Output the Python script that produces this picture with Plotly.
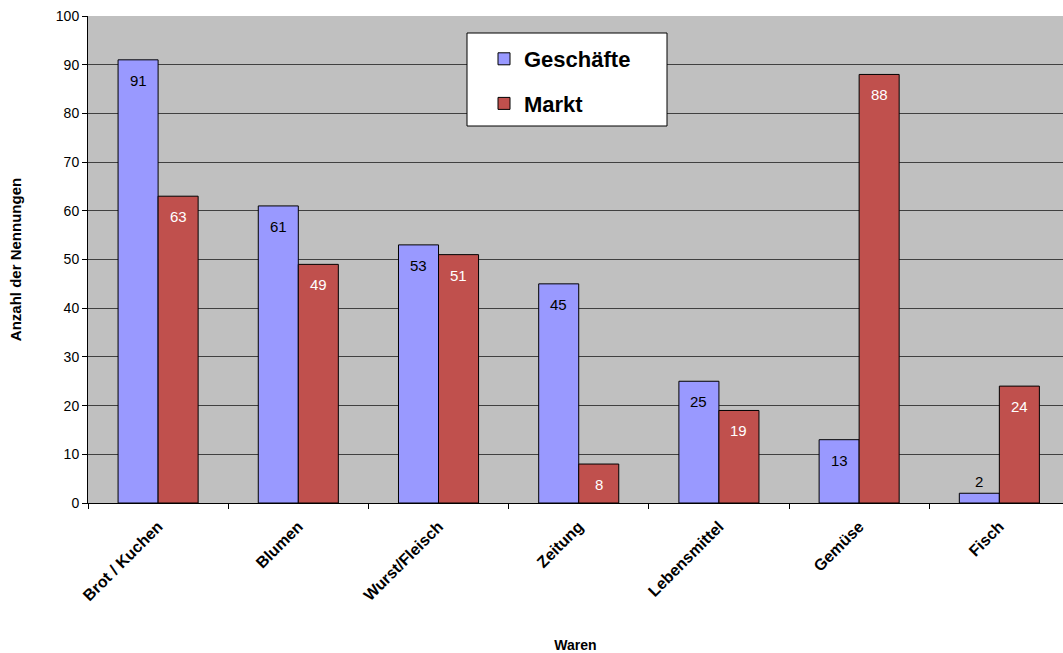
import plotly.graph_objects as go

categories = ["Brot / Kuchen", "Blumen", "Wurst/Fleisch", "Zeitung", "Lebensmittel", "Gemüse", "Fisch"]
geschaefte = [91, 61, 53, 45, 25, 13, 2]
markt = [63, 49, 51, 8, 19, 88, 24]
y_ticks = list(range(0, 101, 10))

font_family = "Liberation Sans, Arial, sans-serif"
blue = "#9999FF"
red = "#C0504D"

fig = go.Figure()
fig.add_trace(go.Bar(
    name="Geschäfte", x=categories, y=geschaefte, legendgroup="g",
    marker=dict(color=blue, line=dict(color="black", width=1)),
))
fig.add_trace(go.Bar(
    name="Markt", x=categories, y=markt, legendgroup="m",
    marker=dict(color=red, line=dict(color="black", width=1)),
))

# value labels: inside near the top of each bar, above the bar when it is too short
def add_labels(values, xshift, inside_color):
    for cat, v in zip(categories, values):
        short = v < 4
        fig.add_annotation(
            x=cat, y=v, xref="x", yref="y", text=str(v), showarrow=False,
            xshift=xshift, yshift=1 if short else -10,
            yanchor="bottom" if short else "top",
            font=dict(size=15, color="black" if short else inside_color, family=font_family),
        )

add_labels(geschaefte, -20, "black")
add_labels(markt, 20, "white")

# legend frame
fig.add_shape(type="rect", xref="paper", yref="paper",
              x0=(467 - 88) / 975, x1=(667 - 88) / 975,
              y0=(503 - 126) / 487, y1=(503 - 33) / 487,
              fillcolor="white", line=dict(color="black", width=1), layer="above")

fig.update_layout(
    width=1063, height=653,
    margin=dict(l=88, r=0, t=16, b=150, autoexpand=False),
    paper_bgcolor="white", plot_bgcolor="#C0C0C0",
    barmode="group", bargap=0.429, bargroupgap=0,
    font=dict(family=font_family, color="black", size=13),
    legend=dict(
        x=(484 - 88) / 975, y=(503 - 38) / 487, xanchor="left", yanchor="top",
        bgcolor="rgba(0,0,0,0)", borderwidth=0,
        font=dict(size=22, family=font_family, color="black", weight="bold"),
        traceorder="grouped", tracegroupgap=13,
    ),
    xaxis=dict(
        range=[-0.5, 6.454], automargin=False,
        showline=True, linecolor="black", linewidth=1,
        ticks="outside", tickson="boundaries", ticklen=5, tickcolor="black",
        tickangle=-45, tickfont=dict(size=16, weight="bold"),
        ticklabelstandoff=7,
        title=dict(text="Waren", font=dict(size=14, weight="bold"), standoff=42),
    ),
    yaxis=dict(
        range=[0, 100], tickvals=y_ticks, automargin=False,
        showline=True, linecolor="black", linewidth=1,
        ticks="outside", ticklen=5, tickcolor="black",
        showgrid=True, gridcolor="#404040", gridwidth=1,
        zeroline=False, tickfont=dict(size=14),
        title=dict(text="Anzahl der Nennungen", font=dict(size=15, weight="bold"), standoff=30),
    ),
)

fig.write_html("out.html")
